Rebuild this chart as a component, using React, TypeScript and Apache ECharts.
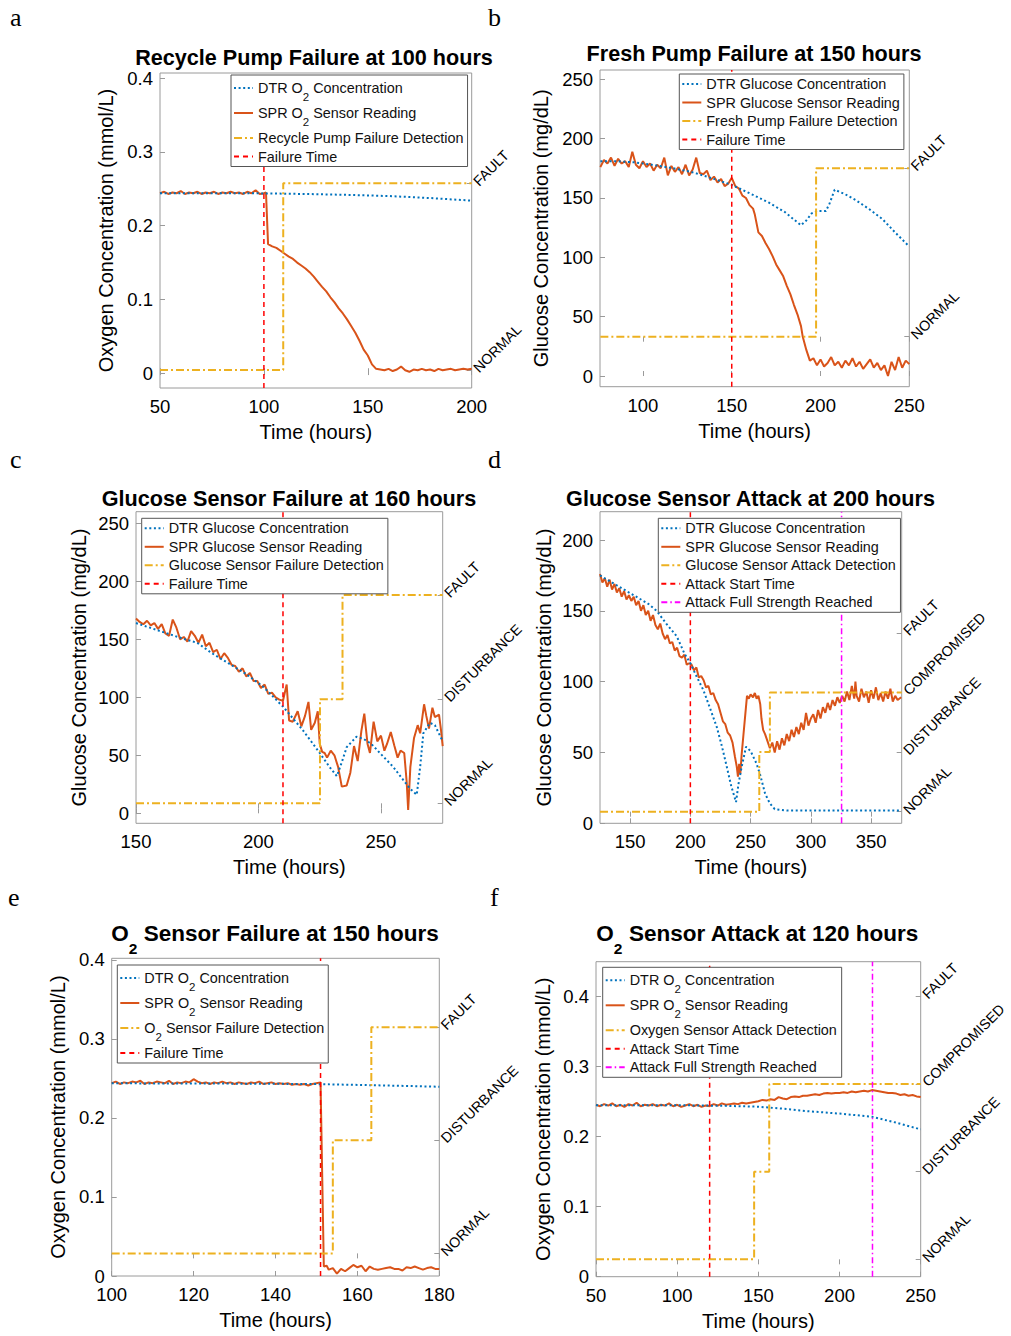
import React, { useEffect, useRef } from 'react';
import * as echarts from 'echarts';

const SANS = '"Liberation Sans", Arial, Helvetica, sans-serif';
const SERIF = '"Liberation Serif", "Times New Roman", serif';
const C_DTR = '#0072BD';
const C_SPR = '#D95319';
const C_DET = '#EDB120';
const C_FAIL = '#FF0000';
const C_FULL = '#FF00FF';
const BOX = '#9a9a9a';

// ---------------- Panel a : Recycle pump failure ----------------
const aXTicks = [50, 100, 150, 200];
const aYTicks = [0, 0.1, 0.2, 0.3, 0.4];
const aLevels = ['NORMAL', 'FAULT'];
const aDtr = [[50, 0.244], [80, 0.244], [100, 0.2438], [120, 0.243], [140, 0.2418], [160, 0.2402], [180, 0.2375], [200, 0.234]];
const aSpr = [[50, 0.244], [52, 0.246], [54, 0.243], [56, 0.245], [58, 0.244], [60, 0.247], [62, 0.243], [64, 0.245], [66, 0.244], [68, 0.246], [70, 0.243], [72, 0.245], [74, 0.244], [76, 0.246], [78, 0.243], [80, 0.245], [82, 0.244], [84, 0.246], [86, 0.244], [88, 0.245], [90, 0.243], [92, 0.246], [94, 0.244], [96, 0.248], [98, 0.243], [100, 0.244], [101, 0.245], [102, 0.175], [104, 0.172], [106, 0.17], [108, 0.166], [110, 0.162], [112, 0.158], [114, 0.155], [116, 0.15], [118, 0.146], [120, 0.142], [122, 0.137], [124, 0.131], [126, 0.124], [128, 0.117], [130, 0.111], [132, 0.103], [134, 0.096], [136, 0.088], [138, 0.081], [140, 0.073], [142, 0.064], [144, 0.055], [146, 0.044], [148, 0.032], [150, 0.024], [152, 0.012], [154, 0.006], [156, 0.005], [158, 0.004], [160, 0.006], [162, 0.003], [164, 0.005], [166, 0.009], [168, 0.004], [170, 0.002], [172, 0.005], [174, 0.004], [176, 0.006], [178, 0.004], [180, 0.005], [182, 0.003], [184, 0.006], [186, 0.004], [188, 0.005], [190, 0.006], [192, 0.004], [194, 0.005], [196, 0.006], [198, 0.005], [200, 0.006]];
const aDet = [[50, 0], [109.3, 0], [109.3, 1], [200, 1]];
const aFail = 100;

// ---------------- Panel b : Fresh pump failure ----------------
const bXTicks = [100, 150, 200, 250];
const bYTicks = [0, 50, 100, 150, 200, 250];
const bLevels = ['NORMAL', 'FAULT'];
const bDtr = [[76, 181], [85, 181], [95, 180], [105, 178], [117, 175], [127, 172], [136, 168], [144, 164], [150, 161], [160, 154], [171, 146], [180, 138], [189, 127], [192, 131], [195, 137], [198, 139], [203, 139], [205, 145], [208, 157], [214, 153], [220, 148], [228, 140], [235, 132], [242, 121], [250, 109]];
const bSpr = [[76, 176], [78, 182], [80, 179], [82, 184], [84, 177], [86, 183], [88, 179], [90, 181], [92, 176], [94, 189], [96, 178], [98, 175], [100, 181], [102, 176], [104, 179], [106, 173], [108, 178], [110, 175], [112, 184], [114, 169], [116, 177], [118, 172], [120, 176], [122, 170], [124, 178], [126, 169], [128, 174], [130, 184], [132, 171], [134, 170], [136, 173], [138, 165], [140, 168], [142, 163], [144, 166], [146, 160], [148, 162], [150, 167], [152, 160], [154, 158], [156, 152], [158, 150], [160, 144], [162, 141], [163, 136], [165, 121], [167, 118], [169, 112], [171, 107], [173, 101], [175, 94], [177, 89], [179, 84], [181, 76], [183, 69], [185, 60], [187, 52], [189, 42], [190, 33], [192, 22], [194, 13], [196, 15], [198, 9], [200, 14], [202, 8], [204, 11], [206, 16], [208, 9], [210, 12], [212, 7], [214, 13], [216, 9], [218, 15], [220, 8], [222, 12], [224, 6], [226, 10], [228, 14], [230, 7], [232, 11], [234, 5], [236, 9], [238, 0], [240, 12], [242, 5], [244, 16], [246, 7], [248, 13], [250, 10]];
const bDet = [[76, 0], [197.5, 0], [197.5, 1], [250, 1]];
const bFail = 150;

// ---------------- Panel c : Glucose sensor failure ----------------
const cXTicks = [150, 200, 250];
const cYTicks = [0, 50, 100, 150, 200, 250];
const cLevels = ['NORMAL', 'DISTURBANCE', 'FAULT'];
const cDtr = [[150, 164], [160, 157], [170, 150], [175, 147], [181, 138], [188, 129], [195, 120], [202, 109], [210, 92], [218, 72], [225, 52], [229, 40], [232, 32], [234, 44], [236, 57], [240, 66], [243, 64], [246, 60], [250, 51], [255, 40], [259, 29], [262, 21], [264.6, 16], [266, 40], [267.3, 69], [270, 78], [272, 76], [275, 63]];
const cSpr = [[150, 168], [151.5, 165], [153, 163], [154.5, 166], [156, 162], [157.5, 164], [159, 159], [160.5, 163], [162, 155], [163.5, 153], [165, 167], [166.5, 160], [168, 150], [169.5, 152], [171, 148], [172.5, 157], [174, 153], [175.5, 147], [177, 154], [178.5, 144], [180, 147], [181.5, 139], [183, 141], [184.5, 133], [186, 138], [187.5, 134], [189, 128], [190.5, 127], [192, 122], [193.5, 125], [195, 118], [196.5, 121], [198, 114], [199.5, 114], [201, 108], [202.5, 111], [204, 103], [205.5, 104], [207, 100], [208.5, 98], [210, 97], [211.5, 111], [212.5, 80], [214, 79], [216, 88], [217.5, 75], [219, 84], [220.4, 96], [221.5, 72], [223, 78], [224.2, 88], [225, 60], [226, 53], [227, 52], [228, 48], [229.5, 54], [231, 50], [232.5, 40], [234, 23], [236, 24], [237.5, 35], [239, 58], [240.5, 45], [242, 71], [243.2, 86], [244.5, 60], [245.5, 52], [247, 79], [248.5, 62], [250, 67], [251.4, 54], [252.5, 60], [254, 70], [255.5, 58], [256.8, 48], [258, 54], [259.5, 52], [260.5, 27], [261.1, 3], [262, 40], [263.5, 65], [265, 76], [266, 69], [267.6, 94], [268.5, 84], [269.6, 73], [271, 91], [272, 83], [273.7, 85], [274.5, 72], [275.2, 58]];
const cDet = [[150, 0], [225.1, 0], [225.1, 1], [234.3, 1], [234.3, 2], [275.2, 2]];
const cFail = 210;

// ---------------- Panel d : Glucose sensor attack ----------------
const dXTicks = [150, 200, 250, 300, 350];
const dYTicks = [0, 50, 100, 150, 200];
const dLevels = ['NORMAL', 'DISTURBANCE', 'COMPROMISED', 'FAULT'];
const dDtr = [[125, 175], [135, 170], [145, 165], [155, 160], [165, 155], [172, 150], [180, 141], [188.7, 132], [195, 120], [200, 113], [205, 104], [210.8, 94], [216, 82], [221.9, 68], [226, 55], [230.2, 40], [234, 26], [237.9, 15], [240, 28], [242.6, 40], [246.2, 54], [250, 51], [255, 42], [258, 34], [262, 21], [266, 14], [270, 10], [280, 9], [300, 9], [340, 9], [375, 9]];
const dSpr = [[125, 176], [127, 170], [129, 173], [131, 167], [133, 172], [135, 165], [137, 169], [139, 163], [141, 166], [143, 160], [145, 164], [147, 158], [149, 161], [151, 157], [153, 160], [155, 154], [157, 157], [159, 150], [161, 154], [163, 147], [165, 150], [167, 143], [169, 147], [171, 140], [173, 137], [175, 141], [177, 134], [179, 130], [181, 133], [183, 127], [185, 128], [187, 122], [189, 124], [191, 118], [193, 117], [195, 119], [197, 112], [199, 113], [201, 112], [203, 108], [205, 110], [207, 103], [209, 104], [211, 101], [213, 96], [215, 97], [217, 91], [219, 92], [221, 87], [223, 84], [225, 78], [227, 72], [229, 70], [231, 64], [233, 62], [235, 57], [237, 47], [238.5, 40], [239.5, 33], [240.5, 42], [241.5, 35], [242.6, 49], [244, 62], [245.5, 76], [247, 90], [248.5, 88], [250, 91], [252, 89], [253.5, 92], [255, 88], [256.5, 90], [258, 84], [259, 74], [260.4, 66], [262, 63], [264, 58], [266, 53], [268, 57], [270, 50], [272, 58], [274, 52], [276, 60], [278, 55], [280, 63], [282, 58], [284, 66], [286, 61], [288, 68], [290, 63], [292, 71], [294, 66], [296, 78], [298, 69], [300, 74], [302, 77], [304, 71], [306, 80], [308, 74], [310, 82], [312, 78], [314, 85], [316, 80], [318, 87], [320, 83], [322, 89], [324, 85], [326, 90], [328, 86], [330, 93], [332, 87], [334, 97], [336, 88], [337, 100], [338, 90], [340, 86], [342, 95], [344, 89], [346, 93], [348, 85], [350, 94], [352, 88], [354, 96], [356, 87], [358, 92], [360, 86], [362, 93], [364, 88], [366, 95], [368, 86], [370, 90], [372, 87], [375, 89]];
const dDet = [[125, 0], [257.2, 0], [257.2, 1], [266, 1], [266, 2], [375.4, 2]];
const dStart = 200;
const dFull = 325.5;

// ---------------- Panel e : O2 sensor failure ----------------
const eXTicks = [100, 120, 140, 160, 180];
const eYTicks = [0, 0.1, 0.2, 0.3, 0.4];
const eLevels = ['NORMAL', 'DISTURBANCE', 'FAULT'];
const eDtr = [[100, 0.2438], [120, 0.2436], [140, 0.2432], [150, 0.2428], [160, 0.2418], [170, 0.2407], [180, 0.2395]];
const eSpr = [[100, 0.244], [101, 0.246], [102, 0.243], [103, 0.245], [104, 0.244], [105, 0.246], [106, 0.245], [107, 0.247], [108, 0.243], [109, 0.245], [110, 0.244], [111, 0.246], [112, 0.245], [113, 0.244], [114, 0.247], [115, 0.243], [116, 0.245], [117, 0.244], [118, 0.246], [119, 0.245], [120, 0.249], [121, 0.246], [122, 0.244], [123, 0.245], [124, 0.243], [125, 0.245], [126, 0.244], [127, 0.246], [128, 0.244], [129, 0.245], [130, 0.243], [131, 0.245], [132, 0.244], [133, 0.243], [134, 0.245], [135, 0.244], [136, 0.246], [137, 0.243], [138, 0.244], [139, 0.245], [140, 0.243], [141, 0.244], [142, 0.243], [143, 0.244], [144, 0.242], [145, 0.243], [146, 0.242], [147, 0.243], [148, 0.241], [149, 0.243], [150, 0.244], [151, 0.245], [151.8, 0.012], [152.5, 0.013], [153, 0.008], [154, 0.01], [155, 0.003], [156, 0.009], [157, 0.006], [158, 0.01], [159, 0.014], [160, 0.011], [161, 0.013], [162, 0.006], [163, 0.012], [164, 0.009], [165, 0.008], [166, 0.009], [167, 0.01], [168, 0.011], [169, 0.009], [170, 0.009], [171, 0.007], [172, 0.011], [173, 0.01], [174, 0.012], [175, 0.01], [176, 0.008], [177, 0.01], [178, 0.011], [179, 0.009], [180, 0.009]];
const eDet = [[100, 0], [154, 0], [154, 1], [163.4, 1], [163.4, 2], [180, 2]];
const eFail = 151;

// ---------------- Panel f : O2 sensor attack ----------------
const fXTicks = [50, 100, 150, 200, 250];
const fYTicks = [0, 0.1, 0.2, 0.3, 0.4];
const fLevels = ['NORMAL', 'DISTURBANCE', 'COMPROMISED', 'FAULT'];
const fDtr = [[50, 0.2445], [100, 0.2445], [130, 0.2435], [150, 0.2423], [165, 0.2395], [180, 0.236], [200, 0.2325], [220, 0.228], [235, 0.2195], [250, 0.21]];
const fSpr = [[50, 0.245], [52.5, 0.243], [55, 0.246], [57.5, 0.244], [60, 0.247], [62.5, 0.243], [65, 0.245], [67.5, 0.242], [70, 0.246], [72.5, 0.244], [75, 0.248], [77.5, 0.243], [80, 0.245], [82.5, 0.244], [85, 0.246], [87.5, 0.243], [90, 0.245], [92.5, 0.244], [95, 0.247], [97.5, 0.243], [100, 0.245], [102.5, 0.242], [105, 0.244], [107.5, 0.246], [110, 0.243], [112.5, 0.245], [115, 0.242], [117.5, 0.244], [120, 0.243], [122.5, 0.246], [125, 0.244], [127.5, 0.247], [130, 0.245], [132.5, 0.246], [135, 0.247], [137.5, 0.246], [140, 0.248], [142.5, 0.247], [145, 0.248], [147.5, 0.249], [150, 0.25], [152.5, 0.252], [155, 0.251], [157.5, 0.253], [160, 0.252], [162.5, 0.256], [165, 0.254], [167.5, 0.253], [170, 0.256], [172.5, 0.257], [175, 0.256], [177.5, 0.258], [180, 0.258], [182.5, 0.259], [185, 0.26], [187.5, 0.259], [190, 0.261], [192.5, 0.262], [195, 0.261], [197.5, 0.262], [200, 0.262], [202.5, 0.263], [205, 0.262], [207.5, 0.264], [210, 0.263], [212.5, 0.264], [215, 0.265], [217.5, 0.264], [220, 0.266], [222.5, 0.265], [225, 0.264], [227.5, 0.263], [230, 0.262], [232.5, 0.262], [235, 0.261], [237.5, 0.259], [240, 0.26], [242.5, 0.258], [245, 0.259], [247.5, 0.257], [250, 0.256]];
const fDet = [[50, 0], [147.4, 0], [147.4, 1], [156.7, 1], [156.7, 2], [250, 2]];
const fStart = 120;
const fFull = 220.3;

type SDef = { name: string; kind: string; data?: number[][]; at?: number };
type Panel = {
  letter: string; lx: number; ly: number;
  title: string; tx: number; ty: number; tfs: number;
  grid: number[]; x: number[]; xTicks: number[]; y: number[]; yTicks: number[];
  r: number[]; levels: string[]; yName: string; yGap: number;
  legend: number[]; lpad: number[]; series: SDef[];
};

const panels: Panel[] = [
  {
    letter: 'a', lx: 10, ly: 4, title: 'Recycle Pump Failure at 100 hours', tx: 314, ty: 57, tfs: 21.6,
    grid: [160, 73, 311.7, 315], x: [50, 200], xTicks: aXTicks, y: [-0.02, 0.407], yTicks: aYTicks,
    r: [-0.096, 1.591], levels: aLevels, yName: 'Oxygen Concentration (mmol/L)', yGap: 44,
    legend: [231, 75], lpad: [5, 4, 2, 2],
    series: [
      { name: 'DTR O2 Concentration', kind: 'dtr', data: aDtr },
      { name: 'SPR O2 Sensor Reading', kind: 'spr', data: aSpr },
      { name: 'Recycle Pump Failure Detection', kind: 'det', data: aDet },
      { name: 'Failure Time', kind: 'fail', at: aFail },
    ],
  },
  {
    letter: 'b', lx: 488, ly: 4, title: 'Fresh Pump Failure at 150 hours', tx: 754, ty: 53.5, tfs: 21.6,
    grid: [600, 70, 309.3, 316.7], x: [75.8, 250], xTicks: bXTicks, y: [-9, 257.8], yTicks: bYTicks,
    r: [-0.297, 1.584], levels: bLevels, yName: 'Glucose Concentration (mg/dL)', yGap: 49,
    legend: [679.3, 74], lpad: [2, 4, 2, 2],
    series: [
      { name: 'DTR Glucose Concentration', kind: 'dtr', data: bDtr },
      { name: 'SPR Glucose Sensor Reading', kind: 'spr', data: bSpr },
      { name: 'Fresh Pump Failure Detection', kind: 'det', data: bDet },
      { name: 'Failure Time', kind: 'fail', at: bFail },
    ],
  },
  {
    letter: 'c', lx: 10, ly: 446, title: 'Glucose Sensor Failure at 160 hours', tx: 289, ty: 498, tfs: 21.6,
    grid: [136, 511.7, 306.7, 311.6], x: [150, 275.2], xTicks: cXTicks, y: [-8.6, 260], yTicks: cYTicks,
    r: [-0.192, 2.8], levels: cLevels, yName: 'Glucose Concentration (mg/dL)', yGap: 47,
    legend: [141.7, 518.3], lpad: [2, 4, 2, 2],
    series: [
      { name: 'DTR Glucose Concentration', kind: 'dtr', data: cDtr },
      { name: 'SPR Glucose Sensor Reading', kind: 'spr', data: cSpr },
      { name: 'Glucose Sensor Failure Detection', kind: 'det', data: cDet },
      { name: 'Failure Time', kind: 'fail', at: cFail },
    ],
  },
  {
    letter: 'd', lx: 488, ly: 446, title: 'Glucose Sensor Attack at 200 hours', tx: 750.5, ty: 498, tfs: 21.6,
    grid: [600, 511.7, 301.7, 311.6], x: [125, 375.4], xTicks: dXTicks, y: [0, 220], yTicks: dYTicks,
    r: [-0.195, 5.036], levels: dLevels, yName: 'Glucose Concentration (mg/dL)', yGap: 46,
    legend: [658.3, 518.3], lpad: [2, 4, 2, 2],
    series: [
      { name: 'DTR Glucose Concentration', kind: 'dtr', data: dDtr },
      { name: 'SPR Glucose Sensor Reading', kind: 'spr', data: dSpr },
      { name: 'Glucose Sensor Attack Detection', kind: 'det', data: dDet },
      { name: 'Attack Start Time', kind: 'fail', at: dStart },
      { name: 'Attack Full Strength Reached', kind: 'full', at: dFull },
    ],
  },
  {
    letter: 'e', lx: 8, ly: 884, title: 'O2 Sensor Failure at 150 hours', tx: 275, ty: 933, tfs: 22.5,
    grid: [111.7, 958.3, 327.6, 317.7], x: [100, 180], xTicks: eXTicks, y: [0, 0.402], yTicks: eYTicks,
    r: [-0.2, 2.61], levels: eLevels, yName: 'Oxygen Concentration (mmol/L)', yGap: 43.7,
    legend: [117.3, 965], lpad: [5, 4, 2, 2],
    series: [
      { name: 'DTR O2 Concentration', kind: 'dtr', data: eDtr },
      { name: 'SPR O2 Sensor Reading', kind: 'spr', data: eSpr },
      { name: 'O2 Sensor Failure Detection', kind: 'det', data: eDet },
      { name: 'Failure Time', kind: 'fail', at: eFail },
    ],
  },
  {
    letter: 'f', lx: 490, ly: 884, title: 'O2 Sensor Attack at 120 hours', tx: 757.5, ty: 933, tfs: 22.5,
    grid: [596, 961.7, 324.7, 315], x: [50, 250], xTicks: fXTicks, y: [0, 0.449], yTicks: fYTicks,
    r: [-0.198, 3.395], levels: fLevels, yName: 'Oxygen Concentration (mmol/L)', yGap: 43,
    legend: [602.7, 967.3], lpad: [5, 4, 2, 2],
    series: [
      { name: 'DTR O2 Concentration', kind: 'dtr', data: fDtr },
      { name: 'SPR O2 Sensor Reading', kind: 'spr', data: fSpr },
      { name: 'Oxygen Sensor Attack Detection', kind: 'det', data: fDet },
      { name: 'Attack Start Time', kind: 'fail', at: fStart },
      { name: 'Attack Full Strength Reached', kind: 'full', at: fFull },
    ],
  },
];

const STYLES: Record<string, any> = {
  dtr: { color: C_DTR, width: 2, type: [2, 2.6], z: 3 },
  spr: { color: C_SPR, width: 2, type: 'solid', z: 2 },
  det: { color: C_DET, width: 2, type: [8, 3, 2, 3], z: 4 },
  fail: { color: C_FAIL, width: 1.5, type: [5, 4], z: 5 },
  full: { color: C_FULL, width: 1.5, type: [6, 3, 1.5, 3], z: 5 },
};

const subFormat = (s: string) => (s.indexOf('O2') >= 0 ? s.split('O2').join('O{s|2}') : s);

function buildOption() {
  const grid: any[] = [];
  const xAxis: any[] = [];
  const xTop: any[] = [];
  const yAxis: any[] = [];
  const yRight: any[] = [];
  const series: any[] = [];
  const legend: any[] = [];
  const title: any[] = [];

  panels.forEach((p, i) => {
    grid.push({ left: p.grid[0], top: p.grid[1], width: p.grid[2], height: p.grid[3], show: true, borderColor: BOX, borderWidth: 1, containLabel: false });
    xAxis.push({
      type: 'value', gridIndex: i, min: p.x[0], max: p.x[1], position: 'bottom',
      axisLine: { show: false },
      axisTick: { show: true, inside: true, length: 5, customValues: p.xTicks, lineStyle: { color: BOX } },
      axisLabel: { customValues: p.xTicks, fontSize: 18.5, fontFamily: SANS, color: '#000', margin: 9 },
      splitLine: { show: false },
      name: 'Time (hours)', nameLocation: 'middle', nameGap: 34,
      nameTextStyle: { fontSize: 20, fontFamily: SANS, color: '#000' },
    });
    xTop.push({
      type: 'value', gridIndex: i, min: p.x[0], max: p.x[1], position: 'top',
      axisLine: { show: false },
      axisTick: { show: true, inside: true, length: 5, customValues: p.xTicks, lineStyle: { color: BOX } },
      axisLabel: { show: false }, splitLine: { show: false },
    });
    yAxis.push({
      type: 'value', gridIndex: i, min: p.y[0], max: p.y[1], position: 'left',
      axisLine: { show: false },
      axisTick: { show: true, inside: true, length: 5, customValues: p.yTicks, lineStyle: { color: BOX } },
      axisLabel: { customValues: p.yTicks, fontSize: 18.5, fontFamily: SANS, color: '#000', margin: 7, formatter: (v: number) => String(v) },
      splitLine: { show: false },
      name: p.yName, nameLocation: 'middle', nameGap: p.yGap,
      nameTextStyle: { fontSize: 20, fontFamily: SANS, color: '#000' },
    });
    const lv = p.levels.map((_, k) => k);
    yRight.push({
      type: 'value', gridIndex: i, min: p.r[0], max: p.r[1], position: 'right',
      axisLine: { show: false },
      axisTick: { show: true, inside: true, length: 5, customValues: lv, lineStyle: { color: BOX } },
      axisLabel: { customValues: lv, rotate: 45, fontSize: 14.3, fontFamily: SANS, color: '#000', margin: 4, formatter: (v: number) => p.levels[Math.round(v)] },
      splitLine: { show: false },
    });

    p.series.forEach((s) => {
      const st = STYLES[s.kind];
      const isDet = s.kind === 'det';
      const data = s.data ? s.data : [[s.at as number, p.y[0]], [s.at as number, p.y[1]]];
      series.push({
        type: 'line', name: s.name, data, xAxisIndex: i, yAxisIndex: isDet ? 6 + i : i,
        symbol: 'none', showSymbol: false, silent: true, color: st.color, z: st.z,
        lineStyle: { color: st.color, width: st.width, type: st.type, cap: 'butt' },
        itemStyle: { color: st.color },
      });
    });

    legend.push({
      orient: 'vertical', left: p.legend[0], top: p.legend[1], z: 20,
      itemWidth: 19, itemHeight: 12, itemGap: 2.5, padding: p.lpad,
      borderColor: '#555', borderWidth: 1, backgroundColor: '#fff', selectedMode: false,
      itemStyle: { color: 'rgba(0,0,0,0)', borderWidth: 0, opacity: 0 },
      data: p.series.map((s) => s.name),
      formatter: (n: string) => subFormat(n),
      textStyle: {
        fontSize: 14.4, fontFamily: SANS, color: '#111', lineHeight: 16,
        rich: { s: { fontSize: 11.5, fontFamily: SANS, color: '#111', lineHeight: 16, padding: [8.5, 0, -8.5, 0] } },
      },
    });

    const hasSub = p.title.indexOf('O2') >= 0;
    title.push({
      text: hasSub ? p.title.split('O2').join('O{s|2}') : p.title,
      left: p.tx, top: p.ty - 12, textAlign: 'center', padding: 0,
      textStyle: {
        fontSize: p.tfs, fontWeight: 'bold', fontFamily: SANS, color: '#000', lineHeight: 24,
        rich: { s: { fontSize: 15.5, fontWeight: 'bold', fontFamily: SANS, color: '#000', lineHeight: 24, padding: [15, 0, -15, 0] } },
      },
    });
    title.push({
      text: p.letter, left: p.lx, top: p.ly, padding: 0,
      textStyle: { fontSize: 26, fontWeight: 'normal', fontFamily: SERIF, color: '#000' },
    });
  });

  return {
    animation: false,
    backgroundColor: '#fff',
    title,
    legend,
    grid,
    xAxis: [...xAxis, ...xTop],
    yAxis: [...yAxis, ...yRight],
    series,
  };
}

export default function App() {
  const ref = useRef<HTMLDivElement>(null);
  useEffect(() => {
    document.body.style.margin = '0';
    if (!ref.current) return;
    const chart = echarts.init(ref.current, undefined, { renderer: 'svg' });
    chart.setOption(buildOption() as any);
    return () => chart.dispose();
  }, []);
  return <div ref={ref} style={{ width: 1011, height: 1336 }} />;
}
